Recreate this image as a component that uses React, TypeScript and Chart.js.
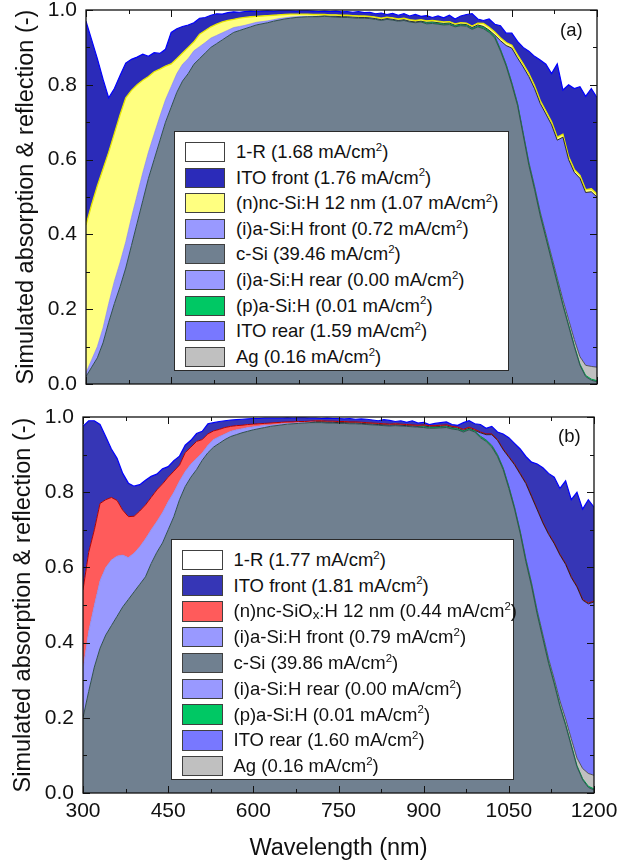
import React, { useEffect, useRef } from 'react';
import { Chart, registerables } from 'chart.js';

Chart.register(...registerables);

const FONT = '"Liberation Sans", Arial, Helvetica, sans-serif';

// ---------------- categories / ticks ----------------
const wavelengths = [
  300, 310, 320, 330, 340, 350, 360, 370, 380, 390,
  400, 410, 420, 430, 440, 450, 460, 470, 480, 490,
  500, 510, 520, 530, 540, 550, 560, 570, 580, 590,
  600, 610, 620, 630, 640, 650, 660, 670, 680, 690,
  700, 710, 720, 730, 740, 750, 760, 770, 780, 790,
  800, 810, 820, 830, 840, 850, 860, 870, 880, 890,
  900, 910, 920, 930, 940, 950, 960, 970, 980, 990,
  1000, 1010, 1020, 1030, 1040, 1050, 1060, 1070, 1080, 1090,
  1100, 1110, 1120, 1130, 1140, 1150, 1160, 1170, 1180, 1190,
  1200,
];
const xMajorTicks = [300, 450, 600, 750, 900, 1050, 1200];
const xMinorTicks = [375, 525, 675, 825, 975, 1125];
const yMajorTicks = [0, 0.2, 0.4, 0.6, 0.8, 1.0];
const yMinorTicks = [0.1, 0.3, 0.5, 0.7, 0.9];

// ---------------- legend texts ----------------
const layerNamesA = ['1-R', 'ITO front', '(n)nc-Si:H 12 nm', '(i)a-Si:H front', 'c-Si', '(i)a-Si:H rear', '(p)a-Si:H', 'ITO rear', 'Ag'];
const currentsA = ['1.68', '1.76', '1.07', '0.72', '39.46', '0.00', '0.01', '1.59', '0.16'];
const layerNamesB = ['1-R', 'ITO front', '(n)nc-SiOx:H 12 nm', '(i)a-Si:H front', 'c-Si', '(i)a-Si:H rear', '(p)a-Si:H', 'ITO rear', 'Ag'];
const currentsB = ['1.77', '1.81', '0.44', '0.79', '39.86', '0.00', '0.01', '1.60', '0.16'];

// ---------------- panel (a) layer absorption ----------------
const a_cSi = [
  0.020, 0.045, 0.070, 0.110, 0.165, 0.215, 0.260, 0.310, 0.370, 0.430,
  0.490, 0.550, 0.600, 0.650, 0.700, 0.740, 0.780, 0.810, 0.830, 0.855,
  0.870, 0.885, 0.900, 0.910, 0.920, 0.930, 0.940, 0.945, 0.950, 0.955,
  0.960, 0.963, 0.966, 0.970, 0.973, 0.976, 0.978, 0.980, 0.981, 0.982,
  0.982, 0.982, 0.983, 0.982, 0.981, 0.980, 0.980, 0.979, 0.978, 0.978,
  0.977, 0.975, 0.972, 0.975, 0.973, 0.970, 0.972, 0.968, 0.966, 0.968,
  0.963, 0.964, 0.962, 0.960, 0.961, 0.955, 0.958, 0.957, 0.948, 0.955,
  0.950, 0.940, 0.925, 0.890, 0.850, 0.800, 0.745, 0.665, 0.585, 0.520,
  0.450, 0.390, 0.330, 0.270, 0.210, 0.155, 0.100, 0.050, 0.020, 0.010,
  0.006,
];
const a_iRear = [
  0, 0, 0, 0, 0, 0, 0, 0, 0, 0,
  0, 0, 0, 0, 0, 0, 0, 0, 0, 0,
  0, 0, 0, 0, 0, 0, 0, 0, 0, 0,
  0, 0, 0, 0, 0, 0, 0, 0, 0, 0,
  0, 0, 0, 0, 0, 0, 0, 0, 0, 0,
  0, 0, 0, 0, 0, 0, 0, 0, 0, 0,
  0, 0, 0, 0, 0, 0, 0, 0, 0, 0,
  0, 0, 0, 0, 0, 0, 0, 0, 0, 0,
  0, 0, 0, 0, 0, 0, 0, 0, 0, 0,
  0,
];
const a_pSi = [
  0, 0, 0, 0, 0, 0, 0, 0, 0, 0,
  0, 0, 0, 0, 0, 0, 0, 0, 0, 0,
  0, 0, 0, 0, 0, 0, 0, 0, 0, 0,
  0, 0, 0, 0, 0, 0, 0, 0, 0, 0,
  0, 0, 0, 0, 0, 0, 0, 0, 0, 0,
  0, 0, 0, 0, 0, 0, 0, 0, 0, 0,
  0.002, 0.002, 0.002, 0.002, 0.002, 0.002, 0.002, 0.002, 0.002, 0.002,
  0.003, 0.003, 0.003, 0.003, 0.003, 0.003, 0.003, 0.003, 0.003, 0.003,
  0.003, 0.003, 0.003, 0.003, 0.003, 0.003, 0.003, 0.003, 0.003, 0.003,
  0.003,
];
const a_Ag = [
  0, 0, 0, 0, 0, 0, 0, 0, 0, 0,
  0, 0, 0, 0, 0, 0, 0, 0, 0, 0,
  0, 0, 0, 0, 0, 0, 0, 0, 0, 0,
  0, 0, 0, 0, 0, 0, 0, 0, 0, 0,
  0, 0, 0, 0, 0, 0, 0, 0, 0, 0,
  0, 0, 0, 0, 0, 0, 0, 0, 0, 0,
  0, 0, 0, 0, 0, 0, 0, 0, 0, 0,
  0.001, 0.001, 0.002, 0.002, 0.002, 0.003, 0.003, 0.004, 0.005, 0.006,
  0.007, 0.008, 0.009, 0.010, 0.012, 0.014, 0.016, 0.020, 0.027, 0.034,
  0.036,
];
const a_itoRear = [
  0, 0, 0, 0, 0, 0, 0, 0, 0, 0,
  0, 0, 0, 0, 0, 0, 0, 0, 0, 0,
  0, 0, 0, 0, 0, 0, 0, 0, 0, 0,
  0, 0, 0, 0, 0, 0, 0, 0, 0, 0,
  0, 0.001, 0.001, 0.001, 0.002, 0.002, 0.002, 0.002, 0.002, 0.002,
  0.002, 0.002, 0.002, 0.002, 0.002, 0.002, 0.002, 0.002, 0.002, 0.002,
  0.002, 0.002, 0.002, 0.002, 0.002, 0.002, 0.002, 0.002, 0.003, 0.003,
  0.002, 0.002, 0.003, 0.023, 0.050, 0.092, 0.121, 0.176, 0.229, 0.261,
  0.290, 0.321, 0.351, 0.369, 0.435, 0.428, 0.447, 0.477, 0.462, 0.467,
  0.455,
];
const a_iFront = [
  0.010, 0.020, 0.030, 0.040, 0.050, 0.060, 0.065, 0.070, 0.075, 0.075,
  0.075, 0.070, 0.068, 0.065, 0.060, 0.055, 0.050, 0.045, 0.040, 0.036,
  0.032, 0.028, 0.025, 0.022, 0.019, 0.016, 0.013, 0.011, 0.009, 0.008,
  0.007, 0.006, 0.005, 0.004, 0.004, 0.003, 0.003, 0.002, 0.002, 0.001,
  0.001, 0, 0, 0, 0, 0, 0, 0, 0, 0,
  0, 0, 0, 0, 0, 0, 0, 0, 0, 0,
  0, 0, 0, 0, 0, 0, 0, 0, 0, 0,
  0, 0, 0, 0, 0, 0, 0, 0, 0, 0,
  0, 0, 0, 0, 0, 0, 0, 0, 0, 0,
  0,
];
const a_nSi = [
  0.395, 0.415, 0.430, 0.425, 0.405, 0.395, 0.395, 0.385, 0.340, 0.295,
  0.247, 0.202, 0.167, 0.127, 0.090, 0.061, 0.040, 0.030, 0.030, 0.024,
  0.033, 0.032, 0.030, 0.030, 0.029, 0.026, 0.022, 0.022, 0.021, 0.019,
  0.016, 0.015, 0.014, 0.012, 0.010, 0.009, 0.008, 0.007, 0.006, 0.006,
  0.005, 0.005, 0.004, 0.004, 0.004, 0.004, 0.004, 0.004, 0.004, 0.004,
  0.004, 0.004, 0.004, 0.004, 0.004, 0.004, 0.004, 0.004, 0.004, 0.004,
  0.004, 0.004, 0.004, 0.004, 0.004, 0.004, 0.004, 0.004, 0.004, 0.005,
  0.008, 0.008, 0.008, 0.008, 0.008, 0.008, 0.008, 0.008, 0.008, 0.008,
  0.008, 0.008, 0.008, 0.008, 0.008, 0.008, 0.008, 0.008, 0.008, 0.008,
  0.008,
];
const a_itoFront = [
  0.545, 0.440, 0.340, 0.240, 0.145, 0.120, 0.105, 0.093, 0.083, 0.074,
  0.070, 0.054, 0.051, 0.042, 0.045, 0.084, 0.080, 0.071, 0.060, 0.051,
  0.043, 0.035, 0.031, 0.028, 0.021, 0.021, 0.020, 0.016, 0.016, 0.015,
  0.013, 0.013, 0.013, 0.011, 0.011, 0.010, 0.009, 0.008, 0.009, 0.009,
  0.009, 0.008, 0.009, 0.009, 0.010, 0.009, 0.010, 0.009, 0.012, 0.009,
  0.011, 0.009, 0.014, 0.007, 0.012, 0.010, 0.012, 0.010, 0.016, 0.009,
  0.014, 0.008, 0.014, 0.011, 0.017, 0.013, 0.018, 0.023, 0.033, 0.011,
  0.008, 0.022, 0.021, 0.032, 0.025, 0.032, 0.036, 0.044, 0.060, 0.078,
  0.108, 0.125, 0.129, 0.196, 0.118, 0.192, 0.216, 0.237, 0.249, 0.268,
  0.258,
];
const a_oneMinusR = [
  0.030, 0.080, 0.130, 0.185, 0.235, 0.210, 0.175, 0.142, 0.132, 0.126,
  0.118, 0.124, 0.114, 0.116, 0.105, 0.060, 0.050, 0.044, 0.040, 0.034,
  0.022, 0.020, 0.014, 0.010, 0.011, 0.007, 0.005, 0.006, 0.004, 0.003,
  0.004, 0.003, 0.002, 0.003, 0.002, 0.002, 0.002, 0.003, 0.002, 0.002,
  0.003, 0.004, 0.003, 0.004, 0.003, 0.005, 0.004, 0.006, 0.004, 0.007,
  0.006, 0.010, 0.008, 0.012, 0.009, 0.014, 0.010, 0.016, 0.012, 0.017,
  0.015, 0.020, 0.016, 0.021, 0.014, 0.024, 0.016, 0.012, 0.010, 0.024,
  0.028, 0.024, 0.038, 0.042, 0.062, 0.065, 0.084, 0.100, 0.110, 0.124,
  0.134, 0.145, 0.170, 0.144, 0.214, 0.200, 0.210, 0.205, 0.231, 0.210,
  0.234,
];

// ---------------- panel (b) layer absorption ----------------
const b_cSi = [
  0.200, 0.270, 0.335, 0.385, 0.420, 0.445, 0.470, 0.495, 0.515, 0.535,
  0.555, 0.575, 0.610, 0.640, 0.665, 0.700, 0.735, 0.780, 0.815, 0.840,
  0.860, 0.885, 0.905, 0.920, 0.930, 0.940, 0.948, 0.953, 0.958, 0.962,
  0.966, 0.969, 0.972, 0.975, 0.977, 0.979, 0.981, 0.982, 0.983, 0.984,
  0.985, 0.985, 0.985, 0.984, 0.984, 0.983, 0.983, 0.982, 0.982, 0.981,
  0.980, 0.979, 0.978, 0.977, 0.976, 0.977, 0.976, 0.975, 0.974, 0.973,
  0.972, 0.970, 0.970, 0.971, 0.972, 0.968, 0.966, 0.960, 0.966, 0.960,
  0.945, 0.935, 0.920, 0.895, 0.860, 0.810, 0.755, 0.690, 0.615, 0.550,
  0.475, 0.410, 0.345, 0.290, 0.230, 0.180, 0.125, 0.070, 0.035, 0.015,
  0.008,
];
const b_iRear = [
  0, 0, 0, 0, 0, 0, 0, 0, 0, 0,
  0, 0, 0, 0, 0, 0, 0, 0, 0, 0,
  0, 0, 0, 0, 0, 0, 0, 0, 0, 0,
  0, 0, 0, 0, 0, 0, 0, 0, 0, 0,
  0, 0, 0, 0, 0, 0, 0, 0, 0, 0,
  0, 0, 0, 0, 0, 0, 0, 0, 0, 0,
  0, 0, 0, 0, 0, 0, 0, 0, 0, 0,
  0, 0, 0, 0, 0, 0, 0, 0, 0, 0,
  0, 0, 0, 0, 0, 0, 0, 0, 0, 0,
  0,
];
const b_pSi = [
  0, 0, 0, 0, 0, 0, 0, 0, 0, 0,
  0, 0, 0, 0, 0, 0, 0, 0, 0, 0,
  0, 0, 0, 0, 0, 0, 0, 0, 0, 0,
  0, 0, 0, 0, 0, 0, 0, 0, 0, 0,
  0, 0, 0, 0, 0, 0, 0, 0, 0, 0,
  0, 0, 0, 0, 0, 0, 0, 0, 0, 0,
  0.002, 0.002, 0.002, 0.002, 0.002, 0.002, 0.002, 0.002, 0.002, 0.002,
  0.003, 0.003, 0.003, 0.003, 0.003, 0.003, 0.003, 0.003, 0.003, 0.003,
  0.003, 0.003, 0.003, 0.003, 0.003, 0.003, 0.003, 0.003, 0.003, 0.003,
  0.003,
];
const b_Ag = [
  0, 0, 0, 0, 0, 0, 0, 0, 0, 0,
  0, 0, 0, 0, 0, 0, 0, 0, 0, 0,
  0, 0, 0, 0, 0, 0, 0, 0, 0, 0,
  0, 0, 0, 0, 0, 0, 0, 0, 0, 0,
  0, 0, 0, 0, 0, 0, 0, 0, 0, 0,
  0, 0, 0, 0, 0, 0, 0, 0, 0, 0,
  0, 0, 0, 0, 0, 0, 0, 0, 0, 0,
  0.001, 0.001, 0.002, 0.002, 0.002, 0.003, 0.003, 0.004, 0.005, 0.006,
  0.007, 0.008, 0.009, 0.010, 0.012, 0.014, 0.016, 0.020, 0.027, 0.034,
  0.036,
];
const b_itoRear = [
  0, 0, 0, 0, 0, 0, 0, 0, 0, 0,
  0, 0, 0, 0, 0, 0, 0, 0, 0, 0,
  0, 0, 0, 0, 0, 0, 0, 0, 0, 0,
  0, 0, 0, 0, 0, 0, 0, 0, 0, 0,
  0, 0.002, 0.002, 0.002, 0.002, 0.002, 0.002, 0.002, 0.002, 0.002,
  0.002, 0.002, 0.002, 0.002, 0.002, 0.002, 0.002, 0.002, 0.002, 0.002,
  0.002, 0.002, 0.002, 0.002, 0.002, 0.002, 0.002, 0.002, 0.002, 0.002,
  0.009, 0.014, 0.028, 0.038, 0.048, 0.077, 0.112, 0.151, 0.200, 0.229,
  0.268, 0.297, 0.331, 0.360, 0.388, 0.411, 0.429, 0.455, 0.448, 0.451,
  0.461,
];
const b_iFront = [
  0.130, 0.160, 0.165, 0.180, 0.180, 0.175, 0.160, 0.138, 0.111, 0.103,
  0.100, 0.101, 0.090, 0.082, 0.081, 0.075, 0.065, 0.050, 0.040, 0.035,
  0.030, 0.020, 0.020, 0.020, 0.018, 0.015, 0.014, 0.013, 0.011, 0.010,
  0.008, 0.007, 0.006, 0.004, 0.003, 0.003, 0.002, 0.002, 0.002, 0.001,
  0.001, 0, 0, 0, 0, 0, 0, 0, 0, 0,
  0, 0, 0, 0, 0, 0, 0, 0, 0, 0,
  0, 0, 0, 0, 0, 0, 0, 0, 0, 0,
  0, 0, 0, 0, 0, 0, 0, 0, 0, 0,
  0, 0, 0, 0, 0, 0, 0, 0, 0, 0,
  0,
];
const b_nSiOx = [
  0.210, 0.210, 0.200, 0.205, 0.180, 0.166, 0.148, 0.119, 0.109, 0.098,
  0.095, 0.090, 0.086, 0.084, 0.076, 0.065, 0.056, 0.042, 0.050, 0.045,
  0.045, 0.035, 0.030, 0.023, 0.019, 0.017, 0.013, 0.011, 0.009, 0.008,
  0.007, 0.006, 0.005, 0.005, 0.005, 0.004, 0.004, 0.003, 0.003, 0.003,
  0.003, 0.003, 0.003, 0.003, 0.003, 0.003, 0.003, 0.003, 0.003, 0.003,
  0.003, 0.003, 0.003, 0.003, 0.003, 0.003, 0.003, 0.003, 0.003, 0.003,
  0.003, 0.003, 0.003, 0.003, 0.003, 0.003, 0.003, 0.003, 0.003, 0.003,
  0.002, 0.002, 0.002, 0.002, 0.002, 0.002, 0.002, 0.002, 0.002, 0.002,
  0.002, 0.002, 0.002, 0.002, 0.002, 0.002, 0.002, 0.002, 0.002, 0.002,
  0.002,
];
const b_itoFront = [
  0.435, 0.350, 0.290, 0.210, 0.168, 0.129, 0.112, 0.098, 0.089, 0.080,
  0.070, 0.066, 0.056, 0.042, 0.040, 0.028, 0.028, 0.024, 0.020, 0.018,
  0.021, 0.022, 0.027, 0.022, 0.021, 0.018, 0.017, 0.016, 0.016, 0.015,
  0.015, 0.014, 0.014, 0.013, 0.012, 0.011, 0.011, 0.010, 0.010, 0.010,
  0.008, 0.007, 0.006, 0.008, 0.007, 0.008, 0.007, 0.009, 0.007, 0.009,
  0.009, 0.008, 0.007, 0.011, 0.010, 0.006, 0.009, 0.006, 0.011, 0.006,
  0.007, 0.003, 0.006, 0.007, 0.008, 0.005, 0.005, 0.018, 0.017, 0.015,
  0.020, 0.015, 0.020, 0.020, 0.040, 0.050, 0.055, 0.065, 0.070, 0.090,
  0.120, 0.145, 0.160, 0.175, 0.175, 0.220, 0.205, 0.250, 0.240, 0.275,
  0.250,
];
const b_oneMinusR = [
  0.025, 0.010, 0.010, 0.020, 0.052, 0.085, 0.110, 0.150, 0.176, 0.184,
  0.180, 0.168, 0.158, 0.152, 0.138, 0.132, 0.116, 0.104, 0.075, 0.062,
  0.044, 0.038, 0.018, 0.015, 0.012, 0.010, 0.008, 0.007, 0.006, 0.005,
  0.004, 0.004, 0.003, 0.003, 0.003, 0.003, 0.002, 0.003, 0.002, 0.002,
  0.003, 0.003, 0.004, 0.003, 0.004, 0.004, 0.005, 0.004, 0.006, 0.005,
  0.006, 0.008, 0.010, 0.007, 0.009, 0.012, 0.010, 0.014, 0.010, 0.016,
  0.014, 0.020, 0.017, 0.015, 0.013, 0.020, 0.022, 0.015, 0.010, 0.018,
  0.020, 0.030, 0.025, 0.040, 0.045, 0.055, 0.070, 0.085, 0.105, 0.120,
  0.125, 0.135, 0.150, 0.160, 0.190, 0.170, 0.220, 0.200, 0.245, 0.220,
  0.240,
];

// ---------------- styling ----------------
type Layer = { key: string; vals: number[]; bg: string; border: string; bw: number; hideZero?: boolean };

const C_WHITE = '#ffffff';
const C_ITOF_A = '#2b2bb9';
const C_ITOF_B = '#3636b6';
const C_YELLOW = '#ffff80';
const C_RED = '#ff5b5b';
const C_IFRONT = '#9999ff';
const C_CSI = '#708090';
const C_IREAR = '#9999ff';
const C_PSI = '#00c864';
const C_ITOR = '#7878ff';
const C_AG = '#c0c0c0';

const layersA: Layer[] = [
  { key: 'c-Si', vals: a_cSi, bg: C_CSI, border: '#2f4f4f', bw: 1 },
  { key: '(i)a-Si:H rear', vals: a_iRear, bg: C_IREAR, border: '#6a6acc', bw: 0 },
  { key: '(p)a-Si:H', vals: a_pSi, bg: C_PSI, border: '#009a48', bw: 1, hideZero: true },
  { key: 'Ag', vals: a_Ag, bg: C_AG, border: '#3a3a3a', bw: 0.8, hideZero: true },
  { key: 'ITO rear', vals: a_itoRear, bg: C_ITOR, border: '#1a1a1a', bw: 0.9, hideZero: true },
  { key: '(i)a-Si:H front', vals: a_iFront, bg: C_IFRONT, border: '#8080e6', bw: 0.6, hideZero: true },
  { key: '(n)nc-Si:H', vals: a_nSi, bg: C_YELLOW, border: '#e6e600', bw: 1.3 },
  { key: 'ITO front', vals: a_itoFront, bg: C_ITOF_A, border: '#0000ff', bw: 1.2 },
  { key: '1-R', vals: a_oneMinusR, bg: C_WHITE, border: C_WHITE, bw: 0 },
];
const layersB: Layer[] = [
  { key: 'c-Si', vals: b_cSi, bg: C_CSI, border: '#2f4f4f', bw: 1 },
  { key: '(i)a-Si:H rear', vals: b_iRear, bg: C_IREAR, border: '#6a6acc', bw: 0 },
  { key: '(p)a-Si:H', vals: b_pSi, bg: C_PSI, border: '#009a48', bw: 1, hideZero: true },
  { key: 'Ag', vals: b_Ag, bg: C_AG, border: '#3a3a3a', bw: 0.8, hideZero: true },
  { key: 'ITO rear', vals: b_itoRear, bg: C_ITOR, border: '#1a1a1a', bw: 0.9, hideZero: true },
  { key: '(i)a-Si:H front', vals: b_iFront, bg: C_IFRONT, border: '#8080e6', bw: 0.6, hideZero: true },
  { key: '(n)nc-SiOx:H', vals: b_nSiOx, bg: C_RED, border: '#b00000', bw: 1 },
  { key: 'ITO front', vals: b_itoFront, bg: C_ITOF_B, border: '#0000ff', bw: 1.2 },
  { key: '1-R', vals: b_oneMinusR, bg: C_WHITE, border: C_WHITE, bw: 0 },
];

const legendColorsA = [C_WHITE, C_ITOF_A, C_YELLOW, C_IFRONT, C_CSI, C_IREAR, C_PSI, C_ITOR, C_AG];
const legendColorsB = [C_WHITE, C_ITOF_B, C_RED, C_IFRONT, C_CSI, C_IREAR, C_PSI, C_ITOR, C_AG];

function buildDatasets(layers: Layer[]) {
  return layers.map((l, idx) => ({
    label: l.key,
    data: l.vals.map((v, i) => ({ x: wavelengths[i], y: v })),
    fill: idx === 0 ? 'origin' : '-1',
    backgroundColor: l.bg,
    borderColor: l.border,
    borderWidth: l.bw,
    pointRadius: 0,
    pointHoverRadius: 0,
    tension: 0,
    segment: l.hideZero
      ? {
          borderColor: (c: any) =>
            l.vals[c.p0DataIndex] > 0 || l.vals[c.p1DataIndex] > 0 ? l.border : 'rgba(0,0,0,0)',
        }
      : undefined,
  }));
}

const frameTicks = {
  id: 'frameTicks',
  afterDatasetsDraw(chart: any) {
    const { ctx, chartArea } = chart;
    const { left, right, top, bottom } = chartArea;
    const xs = chart.scales.x;
    const ys = chart.scales.y;
    ctx.save();
    ctx.strokeStyle = '#111';
    ctx.lineWidth = 1;
    ctx.beginPath();
    const seg = (x1: number, y1: number, x2: number, y2: number) => {
      ctx.moveTo(x1, y1);
      ctx.lineTo(x2, y2);
    };
    xMajorTicks.forEach((v) => {
      const p = Math.round(xs.getPixelForValue(v)) + 0.5;
      seg(p, bottom, p, bottom - 7);
      seg(p, top, p, top + 7);
    });
    xMinorTicks.forEach((v) => {
      const p = Math.round(xs.getPixelForValue(v)) + 0.5;
      seg(p, bottom, p, bottom - 4);
      seg(p, top, p, top + 4);
    });
    yMajorTicks.forEach((v) => {
      const p = Math.round(ys.getPixelForValue(v)) + 0.5;
      seg(left, p, left + 7, p);
      seg(right, p, right - 7, p);
    });
    yMinorTicks.forEach((v) => {
      const p = Math.round(ys.getPixelForValue(v)) + 0.5;
      seg(left, p, left + 4, p);
      seg(right, p, right - 4, p);
    });
    ctx.stroke();
    ctx.lineWidth = 1.3;
    ctx.strokeRect(left, top, right - left, bottom - top);
    ctx.restore();
  },
};

type PanelProps = {
  top: number;
  height: number;
  layers: Layer[];
  pad: { left: number; right: number; top: number; bottom: number };
  yWidth: number;
  xHeight: number;
  showX: boolean;
  yTitlePad: number;
};

function Panel({ top, height, layers, pad, yWidth, xHeight, showX, yTitlePad }: PanelProps) {
  const ref = useRef<HTMLCanvasElement>(null);
  useEffect(() => {
    const chart = new Chart(ref.current as HTMLCanvasElement, {
      type: 'line',
      data: { datasets: buildDatasets(layers) as any },
      options: {
        animation: false,
        responsive: false,
        maintainAspectRatio: false,
        events: [],
        layout: { padding: pad },
        plugins: { legend: { display: false }, tooltip: { enabled: false } },
        scales: {
          x: {
            type: 'linear',
            min: 300,
            max: 1200,
            grid: { display: false, drawTicks: false },
            border: { display: false },
            ticks: {
              display: showX,
              stepSize: 150,
              padding: 6,
              color: '#111',
              font: { family: FONT, size: 21 },
              maxRotation: 0,
              autoSkip: false,
              callback: (v: any) => String(Math.round(Number(v))),
            },
            title: {
              display: showX,
              text: 'Wavelength (nm)',
              color: '#111',
              font: { family: FONT, size: 23.5 },
              padding: { top: 0, bottom: 2 },
            },
            afterFit: (s: any) => {
              s.height = xHeight;
              s.paddingLeft = 0;
              s.paddingRight = 0;
            },
          },
          y: {
            type: 'linear',
            stacked: true,
            min: 0,
            max: 1,
            grid: { display: false, drawTicks: false },
            border: { display: false },
            ticks: {
              stepSize: 0.2,
              padding: 9,
              color: '#111',
              font: { family: FONT, size: 21 },
              callback: (v: any) => Number(v).toFixed(1),
            },
            title: {
              display: true,
              text: 'Simulated absorption & reflection (-)',
              color: '#111',
              font: { family: FONT, size: 23.5 },
              padding: { top: yTitlePad, bottom: 0 },
            },
            afterFit: (s: any) => {
              s.width = yWidth;
              s.paddingTop = 0;
              s.paddingBottom = 0;
            },
          },
        },
      } as any,
      plugins: [frameTicks],
    });
    return () => chart.destroy();
  }, []);
  return (
    <canvas
      ref={ref}
      width={635}
      height={height}
      style={{ position: 'absolute', left: 0, top, width: 635, height, display: 'block' }}
    />
  );
}

function LayerName({ name }: { name: string }) {
  if (name.includes('SiOx')) {
    const [pre, post] = name.split('SiOx');
    return (
      <>
        {pre}SiO
        <span style={{ fontSize: '0.72em', position: 'relative', top: '0.12em' }}>x</span>
        {post}
      </>
    );
  }
  return <>{name}</>;
}

type LegendProps = {
  left: number;
  top: number;
  width: number;
  height: number;
  names: string[];
  currents: string[];
  colors: string[];
  swLeft: number;
  swTop: number;
  swW: number;
  swH: number;
  textLeft: number;
  spacing: number;
};

function Legend(p: LegendProps) {
  return (
    <div
      style={{
        position: 'absolute',
        left: p.left,
        top: p.top,
        width: p.width,
        height: p.height,
        boxSizing: 'border-box',
        border: '1px solid #2a2a2a',
        background: '#fff',
        fontFamily: FONT,
        fontSize: 18.5,
        color: '#111',
      }}
    >
      {p.names.map((n, i) => {
        const y = p.swTop + i * p.spacing;
        return (
          <React.Fragment key={i}>
            <div
              style={{
                position: 'absolute',
                left: p.swLeft,
                top: y,
                width: p.swW,
                height: p.swH,
                boxSizing: 'border-box',
                background: p.colors[i],
                border: '1px solid #404040',
              }}
            />
            <div
              style={{
                position: 'absolute',
                left: p.textLeft,
                top: y + p.swH / 2 - 11,
                height: 22,
                lineHeight: '22px',
                whiteSpace: 'nowrap',
              }}
            >
              <LayerName name={n} /> ({p.currents[i]} mA/cm
              <span style={{ fontSize: '0.62em', position: 'relative', top: '-0.62em' }}>2</span>)
            </div>
          </React.Fragment>
        );
      })}
    </div>
  );
}

export default function App() {
  return (
    <div
      style={{
        position: 'absolute',
        left: 0,
        top: 0,
        width: 635,
        height: 865,
        overflow: 'hidden',
        background: '#fff',
      }}
    >
      <Panel
        top={0}
        height={400}
        layers={layersA}
        pad={{ left: 0, right: 38, top: 10, bottom: 0 }}
        yWidth={86}
        xHeight={16}
        showX={false}
        yTitlePad={12.6}
      />
      <Panel
        top={400}
        height={465}
        layers={layersB}
        pad={{ left: 0, right: 41, top: 17, bottom: 0 }}
        yWidth={83}
        xHeight={72}
        showX={true}
        yTitlePad={9.2}
      />
      <Legend
        left={174}
        top={131}
        width={335}
        height={240}
        names={layerNamesA}
        currents={currentsA}
        colors={legendColorsA}
        swLeft={10}
        swTop={10}
        swW={40}
        swH={20}
        textLeft={61}
        spacing={25.6}
      />
      <Legend
        left={171}
        top={539}
        width={343}
        height={241}
        names={layerNamesB}
        currents={currentsB}
        colors={legendColorsB}
        swLeft={10}
        swTop={9.5}
        swW={41}
        swH={20.5}
        textLeft={61.5}
        spacing={25.8}
      />
      <div style={{ position: 'absolute', left: 560, top: 19, fontFamily: FONT, fontSize: 18.5, lineHeight: '22px', color: '#111' }}>
        (a)
      </div>
      <div style={{ position: 'absolute', left: 558, top: 424.5, fontFamily: FONT, fontSize: 18.5, lineHeight: '22px', color: '#111' }}>
        (b)
      </div>
    </div>
  );
}
